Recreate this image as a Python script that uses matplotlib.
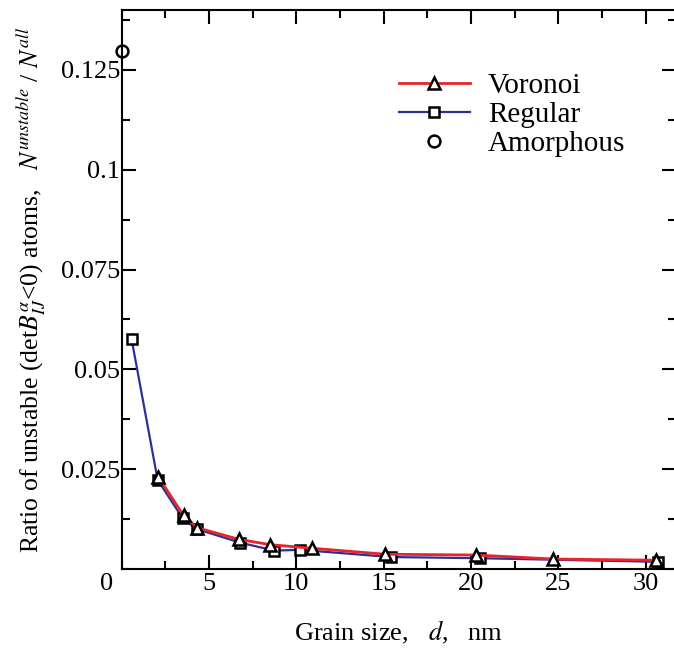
import matplotlib
matplotlib.use("Agg")
import matplotlib.pyplot as plt
from matplotlib.ticker import MultipleLocator

# Data
voronoi_d = [2.1, 3.55, 4.35, 6.75, 8.5, 10.9, 15.1, 20.3, 24.7, 30.6]
voronoi_v = [0.0231, 0.0134, 0.0103, 0.0074, 0.0061, 0.0052, 0.0037, 0.0035, 0.0025, 0.0022]
regular_d = [0.58, 2.07, 3.5, 4.3, 6.8, 8.75, 10.2, 15.4, 20.5, 30.7]
regular_v = [0.0575, 0.0223, 0.0127, 0.0100, 0.0066, 0.0046, 0.0048, 0.0030, 0.0027, 0.0018]
amorph_d = [0.0]
amorph_v = [0.1297]

x_ticks = [5, 10, 15, 20, 25, 30]
y_ticks = [0.025, 0.05, 0.075, 0.1, 0.125]
y_ticklabels = ["0.025", "0.05", "0.075", "0.1", "0.125"]

plt.rcParams['font.family'] = ['Liberation Serif', 'DejaVu Serif']
plt.rcParams['mathtext.fontset'] = 'stix'

W, H = 674, 651
fig = plt.figure(figsize=(W / 100, H / 100), dpi=100)
left, bottom, top = 121.5 / W, 1 - 569 / H, 1 - 10 / H
xmax = 31.75
width = xmax * 17.47 / W
ax = fig.add_axes([left, bottom, width, top - bottom])

red = '#e8232d'
blue = '#2e3192'

ax.plot(regular_d, regular_v, color=blue, lw=1.6, marker='s', ms=7,
        mfc='white', mec='black', mew=1.8, label='Regular', zorder=3)
ax.plot(voronoi_d, voronoi_v, color=red, lw=2.0, marker='^', ms=9,
        mfc='white', mec='black', mew=1.8, label='Voronoi', zorder=4)
ax.plot(amorph_d, amorph_v, ls='none', marker='o', ms=8.5,
        mfc='none', mec='black', mew=1.8, label='Amorphous', zorder=5, clip_on=False)

ax.set_xlim(0, xmax)
ax.set_ylim(0, 0.14)
ax.set_xticks(x_ticks)
ax.set_xticklabels([str(t) for t in x_ticks])
ax.set_yticks(y_ticks)
ax.set_yticklabels(y_ticklabels)
ax.xaxis.set_minor_locator(MultipleLocator(2.5))
ax.yaxis.set_minor_locator(MultipleLocator(0.0125))
ax.tick_params(which='both', direction='in', top=True, right=True, width=1.5,
               labelsize=19)
ax.tick_params(which='major', length=10)
ax.tick_params(which='minor', length=5.8)
ax.tick_params(axis='y', pad=1)
ax.tick_params(axis='x', pad=3)
for s in ax.spines.values():
    s.set_linewidth(1.5)

ax.annotate("0", xy=(0, 0), xycoords='data', xytext=(-11, -3),
            textcoords='offset points', ha='center', va='top', fontsize=19)

ax.set_xlabel(r"Grain size,   $d$,   nm", fontsize=19, labelpad=17)
ax.set_ylabel(r"Ratio of unstable (det$B_{IJ}^{\alpha}$<0) atoms,   $N^{unstable}$ / $N^{all}$",
              fontsize=18.5, labelpad=9)

h, l = ax.get_legend_handles_labels()
order = [1, 0, 2]
leg = ax.legend([h[i] for i in order], [l[i] for i in order], loc='upper left',
                bbox_to_anchor=(0.463, 0.925), frameon=False, fontsize=21,
                handlelength=2.45, handletextpad=0.6, labelspacing=0.1,
                borderpad=0.2)

fig.savefig("out.png", dpi=100)
